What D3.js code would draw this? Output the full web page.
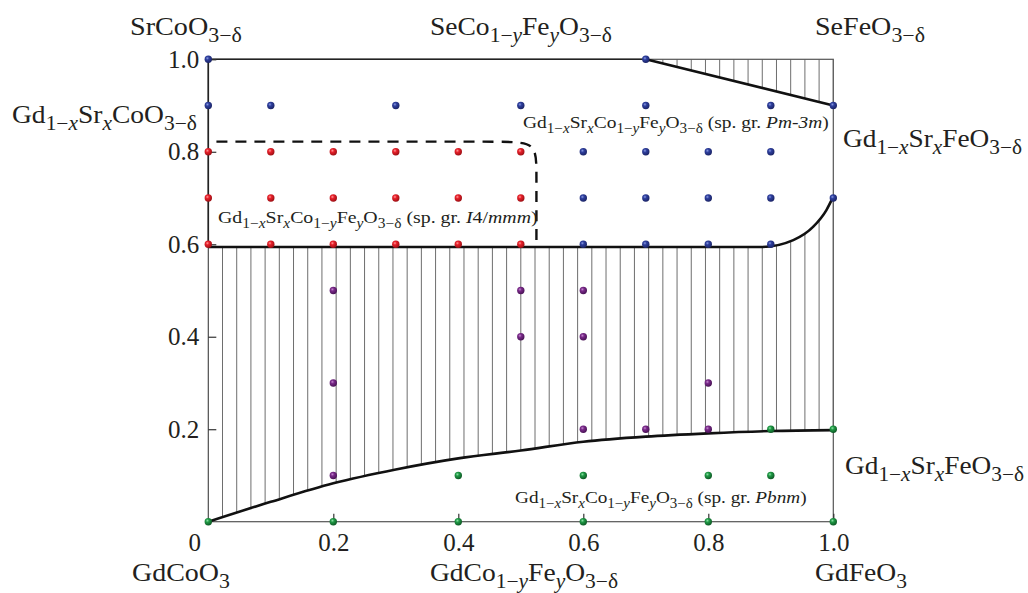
<!DOCTYPE html>
<html>
<head>
<meta charset="utf-8">
<script src="https://cdn.jsdelivr.net/npm/d3@7/dist/d3.min.js"></script>
<style>
  body { margin: 0; background: #fff; }
  text { font-family: "Liberation Serif", "Times New Roman", serif; fill: #231f20; }
</style>
</head>
<body>
<script>
//Variables
    const width = 1028;
    const height = 593;
    const margin = {left: 208.3, right: 194.7, top: 59.3, bottom: 71.3};

//Data: points as [Fe content y, Sr content x]
    const bluePoints = [[0, 1.0], [0.7, 1.0],
        [0, 0.9], [0.1, 0.9], [0.3, 0.9], [0.5, 0.9], [0.7, 0.9], [0.9, 0.9], [1.0, 0.9],
        [0.6, 0.8], [0.7, 0.8], [0.8, 0.8], [0.9, 0.8],
        [0.6, 0.7], [0.7, 0.7], [0.8, 0.7], [0.9, 0.7], [1.0, 0.7],
        [0.6, 0.6], [0.7, 0.6], [0.8, 0.6], [0.9, 0.6]];
    const redPoints = [[0, 0.8], [0.1, 0.8], [0.2, 0.8], [0.3, 0.8], [0.4, 0.8], [0.5, 0.8],
        [0, 0.7], [0.1, 0.7], [0.2, 0.7], [0.3, 0.7], [0.4, 0.7], [0.5, 0.7],
        [0, 0.6], [0.1, 0.6], [0.2, 0.6], [0.3, 0.6], [0.4, 0.6], [0.5, 0.6]];
    const purplePoints = [[0.2, 0.5], [0.5, 0.5], [0.6, 0.5], [0.5, 0.4], [0.6, 0.4],
        [0.2, 0.3], [0.8, 0.3], [0.6, 0.2], [0.7, 0.2], [0.8, 0.2], [0.2, 0.1]];
    const greenPoints = [[0.9, 0.2], [1.0, 0.2], [0.4, 0.1], [0.6, 0.1], [0.8, 0.1], [0.9, 0.1],
        [0, 0], [0.2, 0], [0.4, 0], [0.6, 0], [0.8, 0], [1.0, 0]];

//Data: phase boundaries
    const lowerBoundary = [[0, 0], [0.1, 0.043], [0.2, 0.083], [0.3, 0.113], [0.4, 0.137],
        [0.5, 0.154], [0.6, 0.173], [0.7, 0.184], [0.8, 0.191], [0.9, 0.196], [1.0, 0.198]];
    const upperBoundary = [[0, 0.594], [0.885, 0.594], [0.936, 0.609], [0.968, 0.638],
        [0.989, 0.674], [1.0, 0.703]];
    const topBoundary = [[0.7, 1.0], [1.0, 0.9]];
    const dashedBoundary = [[0.013, 0.822], [0.47, 0.822], [0.525, 0.822], [0.525, 0.76],
        [0.525, 0.594]];

//Ticks
    const feTicks = [0, 0.2, 0.4, 0.6, 0.8, 1.0];
    const srTicks = [0.2, 0.4, 0.6, 0.8, 1.0];

//Helpers: formula text with subscripts, stretched to the width it takes in the figure
    const formula = (sel, str, x, y, size, fitWidth) => {
        const t = sel.append("text")
            .attr("x", x)
            .attr("y", y)
            .style("font-size", size + "px");
        const subSize = size * 0.78;
        const drop = size * 0.27;
        let low = false;
        str.match(/_\{[^}]*\}|\*[^*]*\*|[^_*]+/g).forEach(p => {
            if (p.startsWith("_{")) {
                p.slice(2, -1).match(/[xy]|[^xy]+/g).forEach(c => {
                    const s = t.append("tspan").text(c).style("font-size", subSize + "px");
                    if (/[xy]/.test(c)) s.style("font-style", "italic");
                    if (!low) { s.attr("dy", drop); low = true; }
                });
            } else {
                const s = t.append("tspan").style("font-size", size + "px");
                if (p.startsWith("*")) s.text(p.slice(1, -1)).style("font-style", "italic");
                else s.text(p);
                if (low) { s.attr("dy", -drop); low = false; }
            }
        });
        if (fitWidth) {
            const w = t.node().getBBox().width;
            const k = fitWidth / w;
            t.attr("transform", `translate(${x},0) scale(${k},1) translate(${-x},0)`);
        }
        return t;
    };

//SVG creation
    const svg = d3.select("body")
        .append("svg")
        .attr("width", width)
        .attr("height", height)
        .style("background-color", "#fff");

    const xScale = d3.scaleLinear()
        .domain([0, 1])
        .range([margin.left, width - margin.right]);

    const yScale = d3.scaleLinear()
        .domain([0, 1])
        .range([height - margin.bottom, margin.top]);

//Gradients for the ball markers
    const ballColors = {blue: ["#8a9ae0", "#2e3f9e", "#1b2466"], red: ["#ff9a9a", "#e8202a", "#9c0f14"],
        purple: ["#c58ad0", "#7a2a8a", "#4a1356"], green: ["#8ee0a6", "#1f9a45", "#0f5a26"]};
    const defs = svg.append("defs");
    Object.entries(ballColors).forEach(([name, c]) => {
        const g = defs.append("radialGradient")
            .attr("id", "ball-" + name)
            .attr("cx", "38%").attr("cy", "35%").attr("r", "65%");
        g.append("stop").attr("offset", "0%").attr("stop-color", c[0]);
        g.append("stop").attr("offset", "35%").attr("stop-color", c[1]);
        g.append("stop").attr("offset", "100%").attr("stop-color", c[2]);
    });

//Hatched region clip
    const line = d3.line().x(d => xScale(d[0])).y(d => yScale(d[1]));
    const smooth = d3.line().x(d => xScale(d[0])).y(d => yScale(d[1])).curve(d3.curveMonotoneX);
    const rounded = d3.line().x(d => xScale(d[0])).y(d => yScale(d[1])).curve(d3.curveBasis);

    const hatchPath = smooth(lowerBoundary) + "L" + smooth(upperBoundary.slice().reverse()).slice(1) + "Z";
    const topPath = line(topBoundary) + "L" + xScale(1) + "," + yScale(1) + "Z";

    defs.append("clipPath").attr("id", "hatch-clip")
        .selectAll("path")
        .data([hatchPath, topPath])
        .enter()
        .append("path")
        .attr("d", d => d);

    svg.append("g")
        .attr("clip-path", "url(#hatch-clip)")
        .selectAll("line")
        .data(d3.range(0, 1.0001, 1 / 44))
        .enter()
        .append("line")
        .attr("x1", d => xScale(d))
        .attr("x2", d => xScale(d))
        .attr("y1", yScale(0))
        .attr("y2", yScale(1))
        .attr("stroke", "#6e6e6e")
        .attr("stroke-width", 1);

//Frame
    svg.append("rect")
        .attr("x", xScale(0))
        .attr("y", yScale(1))
        .attr("width", xScale(1) - xScale(0))
        .attr("height", yScale(0) - yScale(1))
        .attr("fill", "none")
        .attr("stroke", "#555")
        .attr("stroke-width", 1.2);

    svg.append("path")
        .attr("d", line([[0, 0.594], [0, 1], [0.7, 1]]))
        .attr("fill", "none")
        .attr("stroke", "#222")
        .attr("stroke-width", 1.6);

//Axes
    const xAxis = d3.axisBottom(xScale)
        .tickValues(feTicks)
        .tickFormat(d => d === 0 ? "0" : d3.format(".1f")(d))
        .tickSizeInner(-8)
        .tickSizeOuter(0)
        .tickPadding(12);

    const gx = svg.append("g")
        .attr("transform", `translate(0, ${yScale(0)})`)
        .style("font-size", "25px")
        .call(xAxis);
    gx.select(".domain").remove();
    gx.selectAll(".tick line").attr("stroke", "#333").attr("stroke-width", 1.2);
    gx.selectAll(".tick text").attr("fill", "#231f20").style("font-family", "Liberation Serif")
        .filter(d => d === 0).attr("x", -14);
    gx.selectAll(".tick").filter(d => d === 0).select("line").remove();

    const yAxis = d3.axisLeft(yScale)
        .tickValues(srTicks)
        .tickFormat(d3.format(".1f"))
        .tickSizeInner(-8)
        .tickSizeOuter(0)
        .tickPadding(9);

    const gy = svg.append("g")
        .attr("transform", `translate(${xScale(0)}, 0)`)
        .style("font-size", "25px")
        .call(yAxis);
    gy.select(".domain").remove();
    gy.selectAll(".tick line").attr("stroke", "#333").attr("stroke-width", 1.2);
    gy.selectAll(".tick text").attr("fill", "#231f20").style("font-family", "Liberation Serif");

//Phase boundaries
    svg.append("path")
        .attr("d", smooth(lowerBoundary))
        .attr("fill", "none")
        .attr("stroke", "#111")
        .attr("stroke-width", 2.6);

    svg.append("path")
        .attr("d", smooth(upperBoundary))
        .attr("fill", "none")
        .attr("stroke", "#111")
        .attr("stroke-width", 2.6);

    svg.append("path")
        .attr("d", line(topBoundary))
        .attr("fill", "none")
        .attr("stroke", "#111")
        .attr("stroke-width", 2.6);

    svg.append("path")
        .attr("d", rounded(dashedBoundary))
        .attr("fill", "none")
        .attr("stroke", "#111")
        .attr("stroke-width", 2.4)
        .attr("stroke-dasharray", "11,8");

//Points
    [["blue", bluePoints], ["red", redPoints], ["purple", purplePoints], ["green", greenPoints]]
        .forEach(([name, pts]) => {
            svg.append("g")
                .selectAll("circle")
                .data(pts)
                .enter()
                .append("circle")
                .attr("cx", d => xScale(d[0]))
                .attr("cy", d => yScale(d[1]))
                .attr("r", 3.7)
                .attr("fill", `url(#ball-${name})`);
        });

//Composition labels
    formula(svg, "SrCoO_{3−δ}", 130, 35, 26, 112);
    formula(svg, "SeCo_{1−y}Fe_{y}O_{3−δ}", 430, 35, 26, 182);
    formula(svg, "SeFeO_{3−δ}", 815, 35, 26, 110);
    formula(svg, "Gd_{1−x}Sr_{x}CoO_{3−δ}", 12, 123, 26, 185);
    formula(svg, "Gd_{1−x}Sr_{x}FeO_{3−δ}", 843, 147, 26, 179);
    formula(svg, "Gd_{1−x}Sr_{x}FeO_{3−δ}", 845, 474, 26, 179);
    formula(svg, "GdCoO_{3}", 132, 581, 26, 98);
    formula(svg, "GdCo_{1−y}Fe_{y}O_{3−δ}", 430, 581, 26, 188);
    formula(svg, "GdFeO_{3}", 815, 581, 26, 92);

//Phase labels
    formula(svg, "Gd_{1−x}Sr_{x}Co_{1−y}Fe_{y}O_{3−δ} (sp. gr. *I*4/*mmm*)", 218, 223, 17.5, 320);
    formula(svg, "Gd_{1−x}Sr_{x}Co_{1−y}Fe_{y}O_{3−δ} (sp. gr. *Pm-3m*)", 523, 128, 17.5, 306);
    formula(svg, "Gd_{1−x}Sr_{x}Co_{1−y}Fe_{y}O_{3−δ} (sp. gr. *Pbnm*)", 515, 503, 17.5, 292);
</script>
</body>
</html>
